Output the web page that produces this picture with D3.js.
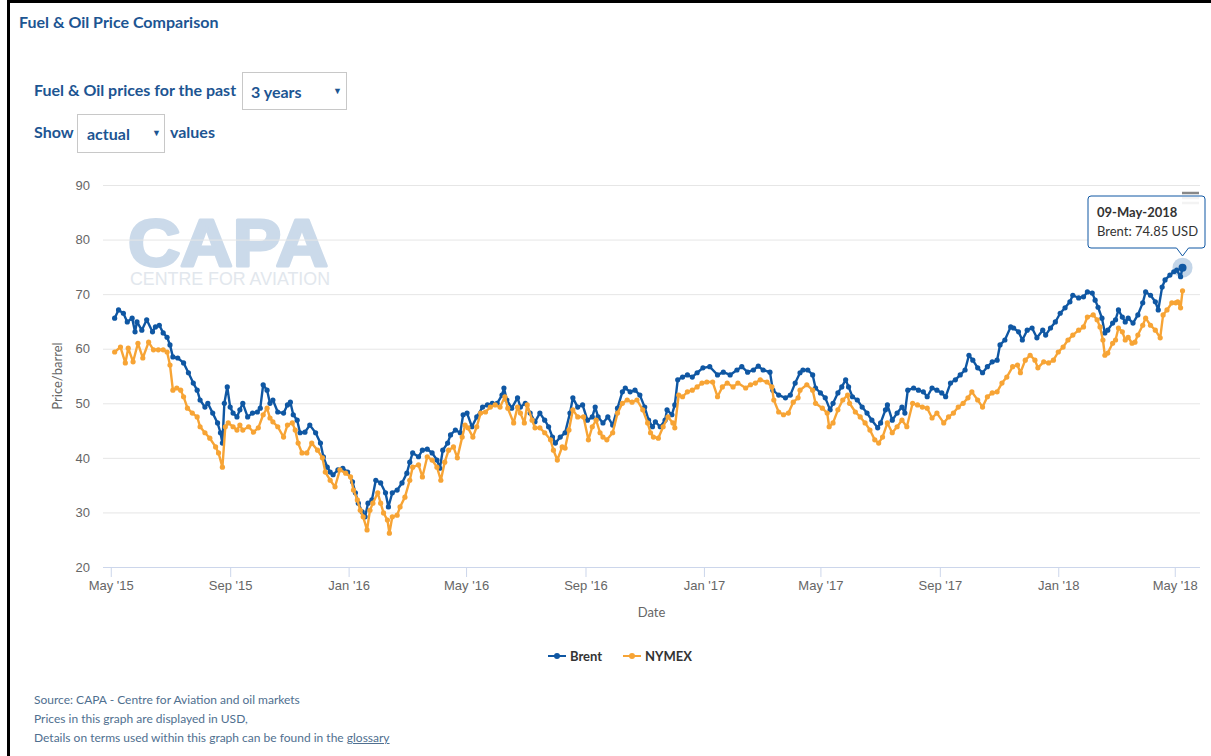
<!DOCTYPE html>
<meta charset='utf-8'>
<head>
  <title>Fuel & Oil Price Comparison</title>
  <style>
    body { margin: 0; background: #fff; font-family: Lato, 'Open Sans', sans-serif; }
    #frame { position: absolute; left: 7px; top: 0; width: 1220px; height: 770px;
             border-left: 3px solid #000; border-top: 3px solid #000; }
    .hdr { position: absolute; color: #1d5592; font-weight: bold; white-space: nowrap; }
    .sel { position: absolute; border: 1px solid #c8c8c8; background: #fff; box-sizing: border-box; }
    .sel span { position: absolute; color: #1d5592; font-weight: bold; font-size: 16px; }
    .sel i { position: absolute; font-style: normal; font-size: 9px; color: #1d5592; }
    .foot { position: absolute; left: 34px; font-size: 12px; color: #4f6f8f; white-space: nowrap; }
    .foot u { text-decoration: underline; }
    svg { position: absolute; left: 0; top: 0; }
  </style>
</head>
<body>
  <div id='frame'></div>
  <div class='hdr' style='left:19px; top:12px; font-size:16px;'>Fuel &amp; Oil Price Comparison</div>
  <div class='hdr' style='left:34px; top:80px; font-size:16px;'>Fuel &amp; Oil prices for the past</div>
  <div class='sel' style='left:242px; top:72px; width:105px; height:38px;'>
    <span style='left:8px; top:9px;'>3 years</span><i style='left:90px; top:12px;'>&#9660;</i>
  </div>
  <div class='hdr' style='left:34px; top:122px; font-size:16px;'>Show</div>
  <div class='sel' style='left:77px; top:114px; width:88px; height:39px;'>
    <span style='left:9px; top:9px;'>actual</span><i style='left:74px; top:12px;'>&#9660;</i>
  </div>
  <div class='hdr' style='left:170px; top:122px; font-size:16px;'>values</div>
  <div class='foot' style='top:692px;'>Source: CAPA - Centre for Aviation and oil markets</div>
  <div class='foot' style='top:711px;'>Prices in this graph are displayed in USD,</div>
  <div class='foot' style='top:730px;'>Details on terms used within this graph can be found in the <u>glossary</u></div>
  <div id='chart'></div>
</body>
<script src='https://cdn.jsdelivr.net/npm/d3@7/dist/d3.min.js'></script>
<script>

// ---- data ----
var seriesNames = ['Brent', 'NYMEX'];
var seriesColors = ['#0f57a3', '#f7a435'];

var brent = [
  ['2015-05-05',65.6],['2015-05-09',67.1],['2015-05-14',66.5],['2015-05-18',64.9],['2015-05-23',65.6],
  ['2015-05-26',63.1],['2015-05-28',64.9],['2015-06-02',63.4],['2015-06-07',65.3],['2015-06-13',63.1],
  ['2015-06-16',64.0],['2015-06-20',64.3],['2015-06-24',62.9],['2015-06-28',62.1],['2015-07-01',60.7],
  ['2015-07-04',58.5],['2015-07-09',58.3],['2015-07-15',57.4],['2015-07-20',55.6],['2015-07-25',53.7],
  ['2015-07-29',52.4],['2015-08-01',50.6],['2015-08-06',49.3],['2015-08-09',50.0],['2015-08-14',48.2],
  ['2015-08-19',46.4],['2015-08-22',44.6],['2015-08-24',42.7],['2015-08-26',50.0],['2015-08-29',53.0],
  ['2015-09-01',49.3],['2015-09-04',48.2],['2015-09-08',47.5],['2015-09-11',48.8],['2015-09-14',50.0],
  ['2015-09-19',47.5],['2015-09-24',48.2],['2015-09-29',48.4],['2015-10-02',49.1],['2015-10-05',53.4],
  ['2015-10-09',52.4],['2015-10-12',50.0],['2015-10-15',50.6],['2015-10-20',48.4],['2015-10-26',48.2],
  ['2015-10-30',49.7],['2015-11-02',50.2],['2015-11-05',47.9],['2015-11-09',46.9],['2015-11-12',44.6],
  ['2015-11-17',44.7],['2015-11-22',46.0],['2015-11-28',44.6],['2015-12-03',42.7],['2015-12-06',40.2],
  ['2015-12-10',38.3],['2015-12-13',37.4],['2015-12-16',36.9],['2015-12-21',37.8],['2015-12-26',38.1],
  ['2015-12-31',37.4],['2016-01-05',35.6],['2016-01-08',33.6],['2016-01-11',31.7],['2016-01-15',30.1],
  ['2016-01-18',29.2],['2016-01-21',31.7],['2016-01-25',32.3],['2016-01-29',35.9],['2016-02-03',35.4],
  ['2016-02-08',33.6],['2016-02-11',31.0],['2016-02-15',33.6],['2016-02-20',34.1],['2016-02-25',35.4],
  ['2016-03-01',37.2],['2016-03-04',39.2],['2016-03-07',40.9],['2016-03-13',40.2],['2016-03-17',41.4],
  ['2016-03-22',41.6],['2016-03-27',40.9],['2016-04-01',39.6],['2016-04-04',38.1],['2016-04-07',41.4],
  ['2016-04-12',42.7],['2016-04-15',44.2],['2016-04-20',45.1],['2016-04-25',44.6],['2016-04-28',47.9],
  ['2016-05-02',48.2],['2016-05-07',45.7],['2016-05-12',47.5],['2016-05-18',49.3],['2016-05-23',49.7],
  ['2016-05-28',50.0],['2016-06-02',50.0],['2016-06-07',51.5],['2016-06-09',52.8],['2016-06-12',50.6],
  ['2016-06-17',49.1],['2016-06-23',51.0],['2016-06-26',49.3],['2016-07-01',50.0],['2016-07-06',48.2],
  ['2016-07-11',46.6],['2016-07-16',48.2],['2016-07-21',46.9],['2016-07-25',45.7],['2016-07-29',43.8],
  ['2016-08-01',42.7],['2016-08-06',43.8],['2016-08-11',44.6],['2016-08-16',48.2],['2016-08-19',51.0],
  ['2016-08-24',49.3],['2016-08-29',49.7],['2016-09-03',46.9],['2016-09-08',47.5],['2016-09-11',49.3],
  ['2016-09-14',47.5],['2016-09-19',46.4],['2016-09-24',47.5],['2016-09-29',46.0],['2016-10-04',49.1],
  ['2016-10-09',52.1],['2016-10-12',52.8],['2016-10-17',52.1],['2016-10-22',52.4],['2016-10-27',51.5],
  ['2016-11-01',49.3],['2016-11-05',46.9],['2016-11-09',45.7],['2016-11-12',46.6],['2016-11-17',45.7],
  ['2016-11-22',46.9],['2016-11-24',48.8],['2016-11-29',47.9],['2016-12-02',49.7],['2016-12-05',54.3],
  ['2016-12-10',54.8],['2016-12-15',55.2],['2016-12-20',54.8],['2016-12-25',55.6],['2016-12-31',56.5],
  ['2017-01-07',56.7],['2017-01-15',55.2],['2017-01-21',55.7],['2017-01-28',55.2],['2017-02-04',56.1],
  ['2017-02-09',56.7],['2017-02-15',55.7],['2017-02-21',56.1],['2017-02-26',56.8],['2017-03-03',56.1],
  ['2017-03-10',55.7],['2017-03-13',52.4],['2017-03-19',51.5],['2017-03-26',51.0],['2017-03-31',51.5],
  ['2017-04-05',53.7],['2017-04-10',55.6],['2017-04-13',56.1],['2017-04-18',56.1],['2017-04-23',55.2],
  ['2017-04-26',52.8],['2017-05-01',51.9],['2017-05-06',51.0],['2017-05-11',48.8],['2017-05-14',50.0],
  ['2017-05-19',51.9],['2017-05-23',53.0],['2017-05-27',54.3],['2017-05-30',53.0],['2017-06-03',51.2],
  ['2017-06-08',50.6],['2017-06-13',49.3],['2017-06-18',48.2],['2017-06-23',46.9],['2017-06-29',45.5],
  ['2017-07-02',46.4],['2017-07-07',48.8],['2017-07-09',49.7],['2017-07-14',46.9],['2017-07-19',48.2],
  ['2017-07-24',49.3],['2017-07-27',48.2],['2017-07-30',52.4],['2017-08-05',52.8],['2017-08-10',52.4],
  ['2017-08-15',52.1],['2017-08-19',51.2],['2017-08-24',52.8],['2017-08-29',52.4],['2017-09-03',51.9],
  ['2017-09-07',51.2],['2017-09-12',53.7],['2017-09-17',54.3],['2017-09-22',55.2],['2017-09-27',56.1],
  ['2017-10-01',58.8],['2017-10-05',57.9],['2017-10-10',56.5],['2017-10-15',55.6],['2017-10-20',56.7],
  ['2017-10-25',57.6],['2017-10-30',57.9],['2017-11-02',60.7],['2017-11-07',61.6],['2017-11-13',64.0],
  ['2017-11-16',63.8],['2017-11-21',63.1],['2017-11-25',61.6],['2017-11-30',63.4],['2017-12-05',63.8],
  ['2017-12-10',62.0],['2017-12-16',63.4],['2017-12-19',62.5],['2017-12-24',63.8],['2017-12-29',64.9],
  ['2018-01-03',66.5],['2018-01-08',67.5],['2018-01-13',68.6],['2018-01-16',69.8],['2018-01-22',69.3],
  ['2018-01-27',69.5],['2018-01-31',70.4],['2018-02-05',70.2],['2018-02-08',68.9],['2018-02-11',67.6],
  ['2018-02-15',65.6],['2018-02-18',62.9],['2018-02-21',63.4],['2018-02-26',64.7],['2018-03-01',65.3],
  ['2018-03-04',67.1],['2018-03-08',65.8],['2018-03-11',64.9],['2018-03-14',65.6],['2018-03-19',64.7],
  ['2018-03-24',66.2],['2018-03-29',68.4],['2018-04-01',70.4],['2018-04-06',69.8],['2018-04-11',68.6],
  ['2018-04-14',67.1],['2018-04-18',71.3],['2018-04-21',72.6],['2018-04-26',73.5],['2018-04-30',74.1],
  ['2018-05-03',74.4],['2018-05-07',73.2],['2018-05-09',74.85]
];

var nymex = [
  ['2015-05-05',59.4],['2015-05-11',60.3],['2015-05-16',57.4],['2015-05-19',60.1],['2015-05-24',57.6],
  ['2015-05-29',61.0],['2015-06-03',58.3],['2015-06-09',61.2],['2015-06-14',59.8],['2015-06-19',59.8],
  ['2015-06-24',59.8],['2015-06-28',59.4],['2015-07-01',57.0],['2015-07-04',52.4],['2015-07-08',52.8],
  ['2015-07-12',52.4],['2015-07-15',51.2],['2015-07-19',49.1],['2015-07-24',48.2],['2015-07-29',47.5],
  ['2015-08-01',45.7],['2015-08-06',44.6],['2015-08-11',43.6],['2015-08-17',42.0],['2015-08-20',40.9],
  ['2015-08-24',38.3],['2015-08-27',45.7],['2015-08-30',46.4],['2015-09-04',45.7],['2015-09-08',45.1],
  ['2015-09-11',46.0],['2015-09-14',45.1],['2015-09-20',45.7],['2015-09-25',44.7],['2015-09-30',45.5],
  ['2015-10-05',47.9],['2015-10-09',49.1],['2015-10-12',47.3],['2015-10-15',46.6],['2015-10-20',45.7],
  ['2015-10-26',43.8],['2015-10-30',46.0],['2015-11-04',46.4],['2015-11-07',45.1],['2015-11-10',42.7],
  ['2015-11-14',40.9],['2015-11-19',40.9],['2015-11-24',42.7],['2015-11-30',41.4],['2015-12-05',40.0],
  ['2015-12-08',37.4],['2015-12-13',35.9],['2015-12-18',34.7],['2015-12-23',37.8],['2015-12-29',37.2],
  ['2016-01-03',36.5],['2016-01-06',34.1],['2016-01-10',32.3],['2016-01-13',30.4],['2016-01-16',29.2],
  ['2016-01-20',26.8],['2016-01-23',30.4],['2016-01-26',31.7],['2016-01-31',33.6],['2016-02-03',31.7],
  ['2016-02-06',29.9],['2016-02-10',28.6],['2016-02-12',26.2],['2016-02-15',29.2],['2016-02-20',29.5],
  ['2016-02-23',31.0],['2016-02-28',32.8],['2016-03-04',35.9],['2016-03-07',38.3],['2016-03-13',38.7],
  ['2016-03-17',36.5],['2016-03-22',40.2],['2016-03-27',39.6],['2016-04-01',38.3],['2016-04-05',35.9],
  ['2016-04-09',39.2],['2016-04-13',41.4],['2016-04-18',42.0],['2016-04-22',40.0],['2016-04-27',43.8],
  ['2016-04-30',46.0],['2016-05-03',45.5],['2016-05-08',43.8],['2016-05-12',45.7],['2016-05-16',48.2],
  ['2016-05-21',48.4],['2016-05-26',49.3],['2016-05-31',49.7],['2016-06-05',49.3],['2016-06-10',51.2],
  ['2016-06-13',49.1],['2016-06-19',46.4],['2016-06-23',49.3],['2016-06-26',48.2],['2016-06-30',46.4],
  ['2016-07-03',49.7],['2016-07-08',46.9],['2016-07-11',45.5],['2016-07-16',45.5],['2016-07-21',44.6],
  ['2016-07-27',43.3],['2016-07-30',41.4],['2016-08-03',39.6],['2016-08-08',42.0],['2016-08-11',41.8],
  ['2016-08-15',45.1],['2016-08-19',48.8],['2016-08-24',47.5],['2016-08-30',47.5],['2016-09-04',43.3],
  ['2016-09-08',45.7],['2016-09-12',46.9],['2016-09-16',44.6],['2016-09-19',43.8],['2016-09-23',43.3],
  ['2016-09-29',44.6],['2016-10-04',48.2],['2016-10-09',50.0],['2016-10-14',50.6],['2016-10-19',50.2],
  ['2016-10-24',50.6],['2016-10-30',48.8],['2016-11-04',46.4],['2016-11-07',44.6],['2016-11-10',43.8],
  ['2016-11-15',43.6],['2016-11-20',45.7],['2016-11-25',47.5],['2016-11-30',46.4],['2016-12-02',45.5],
  ['2016-12-06',51.5],['2016-12-10',51.2],['2016-12-15',52.1],['2016-12-20',52.4],['2016-12-25',53.0],
  ['2016-12-30',53.7],['2017-01-04',53.9],['2017-01-10',53.9],['2017-01-15',51.2],['2017-01-20',53.0],
  ['2017-01-25',53.7],['2017-01-31',53.0],['2017-02-05',53.7],['2017-02-13',52.8],['2017-02-18',53.4],
  ['2017-02-23',53.7],['2017-02-28',54.3],['2017-03-07',53.9],['2017-03-12',53.0],['2017-03-14',50.6],
  ['2017-03-19',48.4],['2017-03-24',47.9],['2017-03-29',48.2],['2017-04-03',50.2],['2017-04-08',51.0],
  ['2017-04-10',52.4],['2017-04-17',53.4],['2017-04-23',52.4],['2017-04-26',50.0],['2017-05-03',49.1],
  ['2017-05-08',48.2],['2017-05-10',45.7],['2017-05-14',46.4],['2017-05-19',48.8],['2017-05-24',50.6],
  ['2017-05-29',51.5],['2017-05-31',50.0],['2017-06-06',48.4],['2017-06-11',47.5],['2017-06-16',46.4],
  ['2017-06-21',45.1],['2017-06-26',43.3],['2017-06-30',42.7],['2017-07-04',43.8],['2017-07-09',46.4],
  ['2017-07-14',44.6],['2017-07-19',45.7],['2017-07-24',46.9],['2017-07-29',45.7],['2017-08-04',50.0],
  ['2017-08-09',49.7],['2017-08-14',49.3],['2017-08-19',49.1],['2017-08-24',47.3],['2017-08-29',48.2],
  ['2017-09-05',46.4],['2017-09-10',47.5],['2017-09-15',48.2],['2017-09-20',49.3],['2017-09-25',50.0],
  ['2017-09-30',51.0],['2017-10-04',52.1],['2017-10-10',50.6],['2017-10-15',49.3],['2017-10-20',51.2],
  ['2017-10-25',51.9],['2017-10-30',52.1],['2017-11-04',53.7],['2017-11-09',54.8],['2017-11-15',56.7],
  ['2017-11-20',57.0],['2017-11-23',55.6],['2017-11-28',57.9],['2017-12-03',58.8],['2017-12-08',57.9],
  ['2017-12-11',56.5],['2017-12-17',57.6],['2017-12-22',57.4],['2017-12-27',57.9],['2018-01-01',59.4],
  ['2018-01-06',60.3],['2018-01-11',61.6],['2018-01-16',62.5],['2018-01-22',63.4],['2018-01-27',64.0],
  ['2018-01-31',65.8],['2018-02-06',66.2],['2018-02-10',65.3],['2018-02-13',64.0],['2018-02-16',61.6],
  ['2018-02-18',58.8],['2018-02-21',59.2],['2018-02-26',61.0],['2018-03-01',61.6],['2018-03-04',63.8],
  ['2018-03-08',63.1],['2018-03-11',61.6],['2018-03-14',62.1],['2018-03-18',61.0],['2018-03-21',61.2],
  ['2018-03-24',62.5],['2018-03-29',64.3],['2018-04-01',65.6],['2018-04-06',64.3],['2018-04-11',63.4],
  ['2018-04-16',62.0],['2018-04-19',66.2],['2018-04-23',67.1],['2018-04-28',68.4],['2018-05-02',68.4],
  ['2018-05-04',68.6],['2018-05-07',67.5],['2018-05-09',70.6]
];

var xDomain = ['2015-04-23', '2018-05-27'];
var xTicks = ['2015-05-01','2015-09-01','2016-01-01','2016-05-01','2016-09-01','2017-01-01',
              '2017-05-01','2017-09-01','2018-01-01','2018-05-01'];
var yTicks = [20, 30, 40, 50, 60, 70, 80, 90];
var tooltipTitle = '09-May-2018';
var tooltipText = 'Brent: 74.85 USD';

// ---- chart ----
var parse = d3.timeParse('%Y-%m-%d');
var W = 1211, H = 756;
var plotL = 103, plotR = 1200, plotT = 185, plotB = 567;

var svg = d3.select('#chart').append('svg')
    .attr('width', W)
    .attr('height', H)
    .style('font-family', "Lato, 'Open Sans', sans-serif");

var x = d3.scaleTime().domain(xDomain.map(parse)).range([plotL, plotR]);
var y = d3.scaleLinear().domain([20, 90]).range([plotB, plotT]);

// watermark
var wm = svg.append('g');
wm.append('text')
    .attr('x', 128).attr('y', 266)
    .attr('textLength', 200).attr('lengthAdjust', 'spacingAndGlyphs')
    .style('font-family', "'Liberation Sans', Arial, sans-serif")
    .style('font-weight', 'bold').style('font-size', '66px')
    .style('fill', '#cbdaea').style('stroke', '#cbdaea')
    .style('stroke-width', 3).style('stroke-linejoin', 'round')
    .text('CAPA');
wm.append('text')
    .attr('x', 130).attr('y', 285)
    .attr('textLength', 200).attr('lengthAdjust', 'spacingAndGlyphs')
    .style('font-family', "'Liberation Sans', Arial, sans-serif")
    .style('font-size', '19px')
    .style('fill', '#e2e7ed')
    .text('CENTRE FOR AVIATION');

// grid + y axis
var yAxis = svg.append('g')
    .attr('transform', 'translate(' + plotL + ',0)')
    .call(d3.axisLeft(y).tickValues(yTicks).tickSize(-(plotR - plotL)).tickPadding(13));
yAxis.select('.domain').remove();
yAxis.selectAll('line').attr('stroke', '#e6e6e6');
yAxis.selectAll('text').style('font-size', '13px').style('fill', '#666');

// x axis
var xAxis = svg.append('g')
    .attr('transform', 'translate(0,' + plotB + ')')
    .call(d3.axisBottom(x).tickValues(xTicks.map(parse))
      .tickFormat(d3.timeFormat("%b '%y")).tickSize(10).tickPadding(4));
xAxis.select('.domain').attr('stroke', '#ccd6eb').attr('d', 'M' + plotL + ',0.5H' + plotR);
xAxis.selectAll('line').attr('stroke', '#ccd6eb');
xAxis.selectAll('text').style('font-size', '13px').style('fill', '#666');

svg.append('text')
    .attr('x', (plotL + plotR) / 2).attr('y', 617)
    .attr('text-anchor', 'middle')
    .style('font-size', '13px').style('fill', '#666')
    .text('Date');

svg.append('text')
    .attr('transform', 'translate(62,' + (plotT + plotB) / 2 + ') rotate(-90)')
    .attr('text-anchor', 'middle')
    .style('font-size', '13px').style('fill', '#666')
    .text('Price/barrel');

// series
var line = d3.line()
    .x(function(d) { return x(parse(d[0])); })
    .y(function(d) { return y(d[1]); });

[brent, nymex].forEach(function(data, i) {
  var g = svg.append('g');
  g.append('path')
      .datum(data)
      .attr('d', line)
      .attr('fill', 'none')
      .attr('stroke', seriesColors[i])
      .attr('stroke-width', 2.4)
      .attr('stroke-linejoin', 'round');
  g.selectAll('circle')
      .data(data)
    .enter().append('circle')
      .attr('cx', function(d) { return x(parse(d[0])); })
      .attr('cy', function(d) { return y(d[1]); })
      .attr('r', 2.6)
      .attr('fill', seriesColors[i]);
});

// hovered point
var last = brent[brent.length - 1];
var px = x(parse(last[0])), py = y(last[1]);
svg.append('circle').attr('cx', px).attr('cy', py).attr('r', 10)
    .attr('fill', seriesColors[0]).attr('opacity', 0.25);
svg.append('circle').attr('cx', px).attr('cy', py).attr('r', 4)
    .attr('fill', seriesColors[0]);

// menu icon
var menu = svg.append('g').attr('stroke', '#888').attr('stroke-width', 2.5);
[0, 5, 10].forEach(function(o) {
  menu.append('line').attr('x1', 1182).attr('x2', 1199)
      .attr('y1', 193 + o).attr('y2', 193 + o);
});

// tooltip
var tx = 1088, ty = 196, tw = 117, th = 52;
var tip = svg.append('g');
tip.append('path')
    .attr('d', 'M' + (tx + 3) + ',' + ty + 'H' + (tx + tw - 3) + 'Q' + (tx + tw) + ',' + ty + ' ' + (tx + tw) + ',' + (ty + 3)
      + 'V' + (ty + th - 3) + 'Q' + (tx + tw) + ',' + (ty + th) + ' ' + (tx + tw - 3) + ',' + (ty + th)
      + 'H' + (px + 6) + 'L' + px + ',' + (ty + th + 8) + 'L' + (px - 6) + ',' + (ty + th)
      + 'H' + (tx + 3) + 'Q' + tx + ',' + (ty + th) + ' ' + tx + ',' + (ty + th - 3)
      + 'V' + (ty + 3) + 'Q' + tx + ',' + ty + ' ' + (tx + 3) + ',' + ty + 'Z')
    .attr('fill', 'rgba(255,255,255,0.9)')
    .attr('stroke', seriesColors[0])
    .attr('stroke-width', 1);
tip.append('text')
    .attr('x', tx + 9).attr('y', ty + 21)
    .style('font-size', '13px').style('font-weight', 'bold').style('fill', '#333')
    .text(tooltipTitle);
tip.append('text')
    .attr('x', tx + 9).attr('y', ty + 40)
    .style('font-size', '13px').style('fill', '#333')
    .text(tooltipText);

// legend
var legendX = [548, 623];
seriesNames.forEach(function(name, i) {
  var g = svg.append('g').attr('transform', 'translate(' + legendX[i] + ',656)');
  g.append('line').attr('x1', 0).attr('x2', 18).attr('y1', 0).attr('y2', 0)
      .attr('stroke', seriesColors[i]).attr('stroke-width', 2);
  g.append('circle').attr('cx', 9).attr('cy', 0).attr('r', 3).attr('fill', seriesColors[i]);
  g.append('text').attr('x', 22).attr('y', 4.5)
      .style('font-size', '13px').style('font-weight', 'bold').style('fill', '#333')
      .text(name);
});

</script>
